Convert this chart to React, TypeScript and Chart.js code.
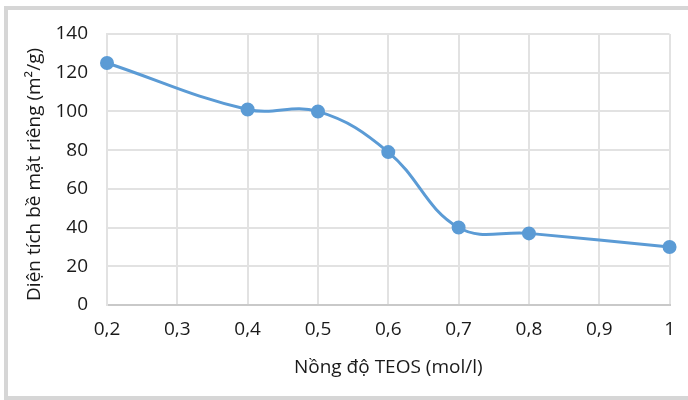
import React, { useEffect, useRef } from "react";
import { Chart, registerables } from "chart.js";

Chart.register(...registerables);

const concentrations = [0.2, 0.4, 0.5, 0.6, 0.7, 0.8, 1.0];
const surfaceArea = [125, 101, 100, 79, 40, 37, 30];
const xTitle = "Nồng độ TEOS (mol/l)";
const yTitle = "Diện tích bề mặt riêng (m²/g)";

const FONT = "'Open Sans', 'Noto Sans', sans-serif";
const FS = 19;

export default function App() {
  const ref = useRef<HTMLCanvasElement | null>(null);

  useEffect(() => {
    document.body.style.margin = "0";
    const canvas = ref.current;
    if (!canvas) return;
    const chart = new Chart(canvas, {
      type: "scatter",
      data: {
        datasets: [
          {
            data: concentrations.map((x, i) => ({ x, y: surfaceArea[i] })),
            showLine: true,
            borderColor: "#5b9bd5",
            backgroundColor: "#5b9bd5",
            borderWidth: 3,
            pointRadius: 5.5,
            pointHoverRadius: 5.5,
            tension: 0.4,
            clip: false,
          },
        ],
      },
      options: {
        responsive: false,
        animation: false,
        plugins: { legend: { display: false }, tooltip: { enabled: false } },
        layout: { padding: { top: 34, right: 18, left: 0, bottom: 0 } },
        scales: {
          x: {
            type: "linear",
            min: 0.2,
            max: 1,
            afterFit: (s: any) => {
              s.height = 95;
            },
            ticks: {
              stepSize: 0.1,
              padding: 13,
              color: "#1a1a1a",
              font: { family: FONT, size: FS },
              callback: (v: any) => {
                const r = Math.round(Number(v) * 10) / 10;
                return String(r).replace(".", ",");
              },
            },
            grid: { color: "#e2e2e2", lineWidth: 2, drawTicks: false },
            border: { color: "#c9c9c9", width: 2 },
            title: {
              display: true,
              text: xTitle,
              color: "#1a1a1a",
              font: { family: FONT, size: FS },
              padding: { top: 0, bottom: 20.6 },
            },
          },
          y: {
            min: 0,
            max: 140,
            afterFit: (s: any) => {
              s.width = 107;
            },
            ticks: {
              stepSize: 20,
              padding: 19,
              color: "#1a1a1a",
              font: { family: FONT, size: FS },
            },
            grid: { color: "#e2e2e2", lineWidth: 2, drawTicks: false },
            border: { color: "#e2e2e2", width: 2 },
            title: {
              display: true,
              text: yTitle + "  ",
              color: "#1a1a1a",
              font: { family: FONT, size: FS },
              padding: { top: 23.6, bottom: 0 },
            },
          },
        },
      },
    });
    return () => chart.destroy();
  }, []);

  return (
    <div style={{ position: "fixed", left: 0, top: 0, width: 688, height: 400, background: "#fff", overflow: "hidden" }}>
      <div
        style={{
          position: "absolute",
          left: 4,
          top: 6,
          width: 700,
          height: 394,
          boxSizing: "border-box",
          borderTop: "4px solid #d6d6d6",
          borderLeft: "4px solid #d6d6d6",
          borderBottom: "4px solid #d6d6d6",
        }}
      />
      <canvas ref={ref} width={688} height={400} style={{ position: "absolute", left: 0, top: 0 }} />
    </div>
  );
}
